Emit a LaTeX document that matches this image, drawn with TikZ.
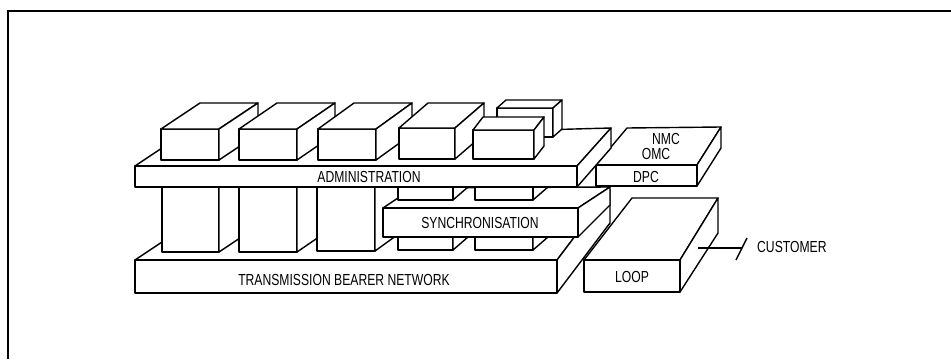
\documentclass[tikz,border=0pt]{standalone}
\usepackage{fontspec}
\newfontfamily\lab[FakeStretch=0.76]{Liberation Sans}
\tikzset{
  face/.style={draw, fill=white, line width=1.4pt, line join=round},
  wfill/.style={fill=white},
  edge/.style={line width=1.4pt, line join=round},
  lbl/.style={font=\lab\fontsize{16}{18}\selectfont, inner sep=0pt},
  frame/.style={line width=1.6pt}
}
% #1 L, #2 T, #3 R, #4 B, #5 dx, #6 dy
\newcommand\cuboid[6]{%
  \draw[face] (#1,#2) rectangle (#3,#4);
  \draw[face] (#1,#2) -- ++(#5,#6) -- ++({#3-#1},0) -- (#3,#2) -- cycle;
  \draw[face] (#3,#2) -- ++(#5,#6) -- ++(0,{#4-#2}) -- (#3,#4) -- cycle;
}
\begin{document}
\begin{tikzpicture}[x=1pt,y=-1pt]
\useasboundingbox (0,0) rectangle (951,359);
% frame
\draw[frame] (951,11) -- (8,11) -- (8,359);

% transmission bearer network slab
\draw[face] (135,260) -- (174,234) -- (610,190) -- (557,260) -- cycle;
\draw[face] (557,260) -- (610,190) -- (610,223) -- (557,293) -- cycle;
\draw[face] (135,260) rectangle (557,293);

% loop box
\draw[face] (584,260) -- (632,198) -- (718,198) -- (680,260) -- cycle;
\draw[face] (680,260) -- (718,198) -- (718,233) -- (680,292) -- cycle;
\draw[face] (584,260) rectangle (680,292);

% columns
\cuboid{162}{180}{219}{252}{39}{-26}
\cuboid{239}{180}{297}{252}{38}{-26}
\cuboid{317}{180}{375}{251}{36}{-26}
\cuboid{398}{180}{453}{250}{15}{-13}
\cuboid{475}{180}{533}{250}{15}{-13}

% synchronisation slab
\draw[face] (383,208) -- (413,188) -- (610,187) -- (578,208) -- cycle;
\draw[face] (578,208) -- (610,187) -- (610,205) -- (578,237) -- cycle;
\draw[face] (383,208) rectangle (578,237);

% column pieces above the synchronisation slab
\fill[wfill] (398,180) rectangle (453,200);
\fill[wfill] (453,180) -- (453,200) -- (468,187) -- (468,167) -- cycle;
\draw[edge] (398,180) -- (398,200) -- (453,200) -- (453,180);
\draw[edge] (453,200) -- (468,187);
\fill[wfill] (475,180) rectangle (533,200);
\fill[wfill] (533,180) -- (533,200) -- (548,187) -- (548,167) -- cycle;
\draw[edge] (475,180) -- (475,200) -- (533,200) -- (533,180);
\draw[edge] (533,200) -- (548,187);

% NMC / OMC / DPC slab
\draw[face] (596,165) -- (627,128) -- (721,127) -- (697,165) -- cycle;
\draw[face] (697,165) -- (721,127) -- (721,148) -- (697,186) -- cycle;
\draw[face] (596,165) rectangle (697,186);

% administration slab
\draw[face] (135,166) -- (174,140) -- (611,128) -- (577,166) -- cycle;
\draw[face] (577,166) -- (611,128) -- (611,148) -- (577,187) -- cycle;
\draw[face] (135,166) rectangle (577,187);

% boxes on top
\cuboid{497}{108}{553}{137}{9}{-8}
\cuboid{161}{129}{219}{160}{39}{-26}
\cuboid{239}{129}{297}{160}{38}{-26}
\cuboid{318}{129}{376}{160}{36}{-26}
\cuboid{399}{128}{455}{159}{29}{-25}
\cuboid{473}{130}{534}{159}{10}{-13}

% labels
\node[lbl] (adm) at (369,177) {ADMINISTRATION};
\node[lbl] (syn) at (480,222.5) {SYNCHRONISATION};
\node[lbl] (tbn) at (344,279.5) {TRANSMISSION BEARER NETWORK};
\node[lbl] (loop) at (632,277) {LOOP};
\node[lbl] (nmc) at (666,138.5) {NMC};
\node[lbl] (omc) at (656,153.5) {OMC};
\node[lbl] (dpc) at (646,176.5) {DPC};
\node[lbl, anchor=west] (customer) at (757,247) {CUSTOMER};

% customer connection
\coordinate (custA) at (698,248);
\coordinate (custB) at (742,248);
\coordinate (tickA) at (736,260);
\coordinate (tickB) at (747,238);
\draw[edge] (custA) -- (custB);
\draw[edge] (tickA) -- (tickB);
\end{tikzpicture}
\end{document}
